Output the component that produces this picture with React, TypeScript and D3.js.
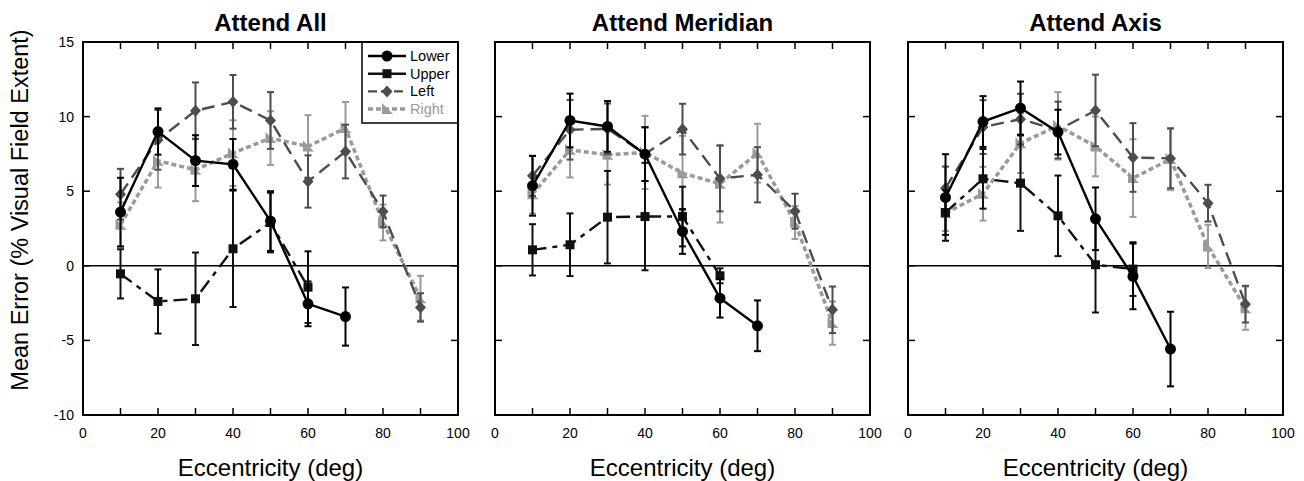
import React from "react";
import * as d3 from "d3";

const titles = ["Attend All", "Attend Meridian", "Attend Axis"];
const eccLower = [10, 20, 30, 40, 50, 60, 70];
const eccUpper = [10, 20, 30, 40, 50, 60];
const eccSide = [10, 20, 30, 40, 50, 60, 70, 80, 90];
const xTicks = [0, 20, 40, 60, 80, 100];
const xMinor = [0, 10, 20, 30, 40, 50, 60, 70, 80, 90, 100];
const yTicks = [-10, -5, 0, 5, 10, 15];

// Attend All
const allLower = [3.6, 9.0, 7.05, 6.8, 3.0, -2.55, -3.4];
const allLowerErr = [2.3, 1.55, 1.7, 1.7, 2.0, 1.5, 1.95];
const allUpper = [-0.54, -2.39, -2.21, 1.14, 2.9, -1.43];
const allUpperErr = [1.65, 2.15, 3.1, 3.9, 2.0, 2.4];
const allLeft = [4.8, 8.44, 10.39, 10.99, 9.74, 5.65, 7.66, 3.64, -2.79];
const allLeftErr = [1.7, 2.0, 1.9, 1.8, 1.9, 1.75, 1.8, 1.07, 0.95];
const allRight = [2.75, 7.04, 6.43, 7.55, 8.56, 8.0, 9.23, 2.9, -2.17];
const allRightErr = [1.5, 1.8, 2.1, 2.2, 1.8, 2.1, 1.75, 1.2, 1.5];

// Attend Meridian
const merLower = [5.36, 9.74, 9.34, 7.48, 2.3, -2.17, -4.02];
const merLowerErr = [2.0, 1.8, 1.7, 1.8, 1.5, 1.3, 1.7];
const merUpper = [1.07, 1.41, 3.26, 3.3, 3.3, -0.67];
const merUpperErr = [1.72, 2.1, 3.1, 3.6, 2.0, 0.5];
const merLeft = [6.03, 9.12, 9.18, 7.49, 9.16, 5.85, 6.1, 3.66, -2.95];
const merLeftErr = [1.35, 2.0, 1.7, 1.8, 1.7, 2.2, 1.85, 1.17, 1.56];
const merRight = [4.8, 7.77, 7.44, 7.6, 6.21, 5.5, 7.55, 2.9, -3.84];
const merRightErr = [1.3, 1.85, 2.0, 2.45, 2.5, 2.6, 1.97, 1.1, 1.45];

// Attend Axis
const axLower = [4.58, 9.67, 10.57, 8.96, 3.15, -0.71, -5.58];
const axLowerErr = [2.9, 1.7, 1.78, 1.5, 2.1, 2.2, 2.5];
const axUpper = [3.57, 5.83, 5.54, 3.35, 0.07, -0.22];
const axUpperErr = [1.5, 2.0, 3.2, 2.7, 3.2, 1.8];
const axLeft = [5.2, 9.3, 9.83, 9.1, 10.41, 7.26, 7.2, 4.2, -2.57];
const axLeftErr = [1.45, 1.8, 1.7, 1.9, 2.4, 2.3, 2.0, 1.23, 1.23];
const axRight = [3.53, 4.83, 8.22, 9.38, 8.0, 5.88, 7.15, 1.3, -2.84];
const axRightErr = [1.2, 1.8, 2.0, 2.26, 2.0, 2.6, 2.08, 1.45, 1.45];

const seriesNames = ["Lower", "Upper", "Left", "Right"];

type S = { name: string; x: number[]; y: number[]; e: number[] };

const panels: S[][] = [
  [
    { name: "Lower", x: eccLower, y: allLower, e: allLowerErr },
    { name: "Upper", x: eccUpper, y: allUpper, e: allUpperErr },
    { name: "Left", x: eccSide, y: allLeft, e: allLeftErr },
    { name: "Right", x: eccSide, y: allRight, e: allRightErr },
  ],
  [
    { name: "Lower", x: eccLower, y: merLower, e: merLowerErr },
    { name: "Upper", x: eccUpper, y: merUpper, e: merUpperErr },
    { name: "Left", x: eccSide, y: merLeft, e: merLeftErr },
    { name: "Right", x: eccSide, y: merRight, e: merRightErr },
  ],
  [
    { name: "Lower", x: eccLower, y: axLower, e: axLowerErr },
    { name: "Upper", x: eccUpper, y: axUpper, e: axUpperErr },
    { name: "Left", x: eccSide, y: axLeft, e: axLeftErr },
    { name: "Right", x: eccSide, y: axRight, e: axRightErr },
  ],
];

const styles: Record<string, { color: string; dash: string; width: number }> = {
  Lower: { color: "#000", dash: "none", width: 2.4 },
  Upper: { color: "#111", dash: "14,6,5,6", width: 2.4 },
  Left: { color: "#4d4d4d", dash: "13,7", width: 2.4 },
  Right: { color: "#9a9a9a", dash: "5,3", width: 3.5 },
};

const panelLefts = [83, 495, 908];
const PW = 375;
const TOP = 42;
const BOTTOM = 415;
const FONT = "Liberation Sans, Arial, sans-serif";

function Marker({ name, cx, cy }: { name: string; cx: number; cy: number }) {
  const c = styles[name].color;
  if (name === "Lower") return <circle cx={cx} cy={cy} r={5.5} fill={c} />;
  if (name === "Upper") return <rect x={cx - 4.5} y={cy - 4.5} width={9} height={9} fill={c} />;
  if (name === "Left")
    return <path d={`M${cx},${cy - 6}L${cx + 5.5},${cy}L${cx},${cy + 6}L${cx - 5.5},${cy}Z`} fill={c} />;
  return <path d={`M${cx - 5},${cy - 6}L${cx + 6},${cy + 5}L${cx - 5},${cy + 5}Z`} fill={c} />;
}

function Panel({ idx }: { idx: number }) {
  const left = panelLefts[idx];
  const x = d3.scaleLinear().domain([0, 100]).range([left, left + PW]);
  const y = d3.scaleLinear().domain([-10, 15]).range([BOTTOM, TOP]);
  const series = panels[idx];
  const order = ["Right", "Left", "Upper", "Lower"];
  return (
    <g>
      <text x={left + PW / 2} y={31} textAnchor="middle" fontFamily={FONT} fontWeight="bold" fontSize={24}>
        {titles[idx]}
      </text>
      <line x1={x(0)} x2={x(100)} y1={y(0)} y2={y(0)} stroke="#000" strokeWidth={1.5} />
      {xMinor.map((t) => (
        <g key={"xt" + t}>
          <line x1={x(t)} x2={x(t)} y1={BOTTOM} y2={BOTTOM - 7} stroke="#000" strokeWidth={1.5} />
          <line x1={x(t)} x2={x(t)} y1={TOP} y2={TOP + 7} stroke="#000" strokeWidth={1.5} />
        </g>
      ))}
      {yTicks.map((t) => (
        <g key={"yt" + t}>
          <line x1={left} x2={left + 7} y1={y(t)} y2={y(t)} stroke="#000" strokeWidth={1.5} />
          <line x1={left + PW} x2={left + PW - 7} y1={y(t)} y2={y(t)} stroke="#000" strokeWidth={1.5} />
        </g>
      ))}
      {xTicks.map((t) => (
        <text key={"xl" + t} x={x(t)} y={438} textAnchor="middle" fontFamily={FONT} fontSize={14}>
          {t}
        </text>
      ))}
      {idx === 0 &&
        yTicks.map((t) => (
          <text key={"yl" + t} x={left - 9} y={y(t) + 5} textAnchor="end" fontFamily={FONT} fontSize={14}>
            {t}
          </text>
        ))}
      <text x={left + PW / 2} y={476} textAnchor="middle" fontFamily={FONT} fontSize={24}>
        Eccentricity (deg)
      </text>
      {order.map((nm) => {
        const s = series.find((q) => q.name === nm)!;
        const st = styles[nm];
        const pts = s.x.map((xv, i) => [x(xv), y(s.y[i])] as [number, number]);
        const path = d3.line()(pts) || "";
        return (
          <g key={nm}>
            {s.x.map((xv, i) => {
              const px = x(xv);
              const y1 = y(s.y[i] + s.e[i]);
              const y2 = y(s.y[i] - s.e[i]);
              return (
                <g key={i} stroke={st.color} strokeWidth={2}>
                  <line x1={px} x2={px} y1={y1} y2={y2} />
                  <line x1={px - 3.5} x2={px + 3.5} y1={y1} y2={y1} />
                  <line x1={px - 3.5} x2={px + 3.5} y1={y2} y2={y2} />
                </g>
              );
            })}
            <path d={path} fill="none" stroke={st.color} strokeWidth={st.width} strokeDasharray={st.dash} />
            {pts.map((p, i) => (
              <Marker key={i} name={nm} cx={p[0]} cy={p[1]} />
            ))}
          </g>
        );
      })}
      <rect x={left} y={TOP} width={PW} height={BOTTOM - TOP} fill="none" stroke="#000" strokeWidth={2} />
      {idx === 0 && (
        <g>
          <rect x={362} y={TOP} width={left + PW - 362} height={81} fill="#fff" stroke="#000" strokeWidth={1.5} />
          {seriesNames.map((nm, i) => {
            const st = styles[nm];
            const cy = 56 + i * 17.7;
            return (
              <g key={nm}>
                <line
                  x1={368}
                  x2={406}
                  y1={cy}
                  y2={cy}
                  stroke={st.color}
                  strokeWidth={st.width}
                  strokeDasharray={nm === "Right" ? "5,3" : nm === "Left" ? "9,4" : "none"}
                />
                <Marker name={nm} cx={387} cy={cy} />
                <text x={410} y={cy + 5} fontFamily={FONT} fontSize={14.5} fill={nm === "Right" ? "#9a9a9a" : "#000"}>
                  {nm}
                </text>
              </g>
            );
          })}
          <rect x={left} y={TOP} width={PW} height={BOTTOM - TOP} fill="none" stroke="#000" strokeWidth={2} />
        </g>
      )}
    </g>
  );
}

export default function App() {
  return (
    <svg width={1304} height={481} style={{ position: "absolute", left: 0, top: 0, background: "#fff" }}>
      <rect x={0} y={0} width={1304} height={481} fill="#fff" />
      <text transform="translate(28,210) rotate(-90)" textAnchor="middle" fontFamily={FONT} fontSize={23.5}>
        Mean Error (% Visual Field Extent)
      </text>
      {[0, 1, 2].map((i) => (
        <Panel key={i} idx={i} />
      ))}
    </svg>
  );
}
